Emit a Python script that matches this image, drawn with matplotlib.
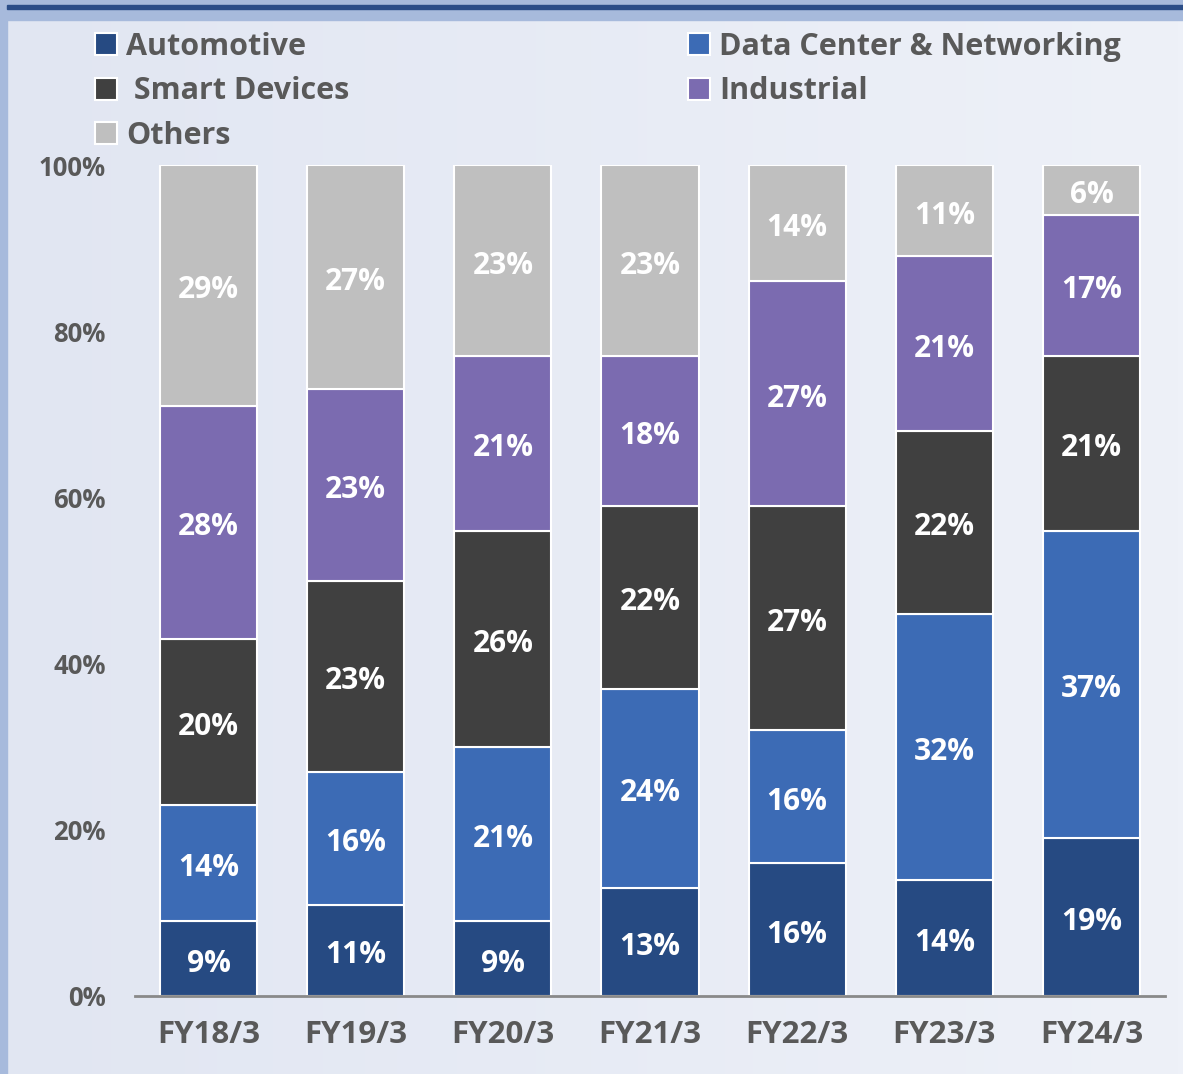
import matplotlib.pyplot as plt
from matplotlib.patches import Rectangle
import numpy as np

plt.rcParams['font.family'] = ['Open Sans', 'DejaVu Sans']

years = ["FY18/3", "FY19/3", "FY20/3", "FY21/3", "FY22/3", "FY23/3", "FY24/3"]
automotive = [9, 11, 9, 13, 16, 14, 19]
data_center = [14, 16, 21, 24, 16, 32, 37]
smart_devices = [20, 23, 26, 22, 27, 22, 21]
industrial = [28, 23, 21, 18, 27, 21, 17]
others = [29, 27, 23, 23, 14, 11, 6]

series = [
    ("Automotive", automotive, "#264a82"),
    ("Data Center & Networking", data_center, "#3c6bb5"),
    (" Smart Devices", smart_devices, "#404040"),
    ("Industrial", industrial, "#7b6bb0"),
    ("Others", others, "#bfbfbf"),
]

fig = plt.figure(figsize=(11.83, 10.74), dpi=100)

# background gradient + frame
bg = fig.add_axes([0, 0, 1, 1], zorder=-10)
grad = np.linspace(0, 1, 256).reshape(1, -1)
bg.imshow(grad, aspect="auto", extent=[0, 1, 0, 1],
          cmap=plt.matplotlib.colors.LinearSegmentedColormap.from_list("g", ["#e1e6f2", "#eef1f8"]))
bg.add_patch(Rectangle((0, 0), 7 / 1183, 1, color="#a7badc", transform=bg.transAxes))
bg.add_patch(Rectangle((0, 1 - 20 / 1074), 1, 20 / 1074, color="#a7badc", transform=bg.transAxes))
bg.add_patch(Rectangle((7 / 1183, 1 - 9 / 1074), 1, 4 / 1074, color="#2b4d88", transform=bg.transAxes))
bg.set_xlim(0, 1)
bg.set_ylim(0, 1)
bg.axis("off")

ax = fig.add_axes([135 / 1183, 1 - 996 / 1074, 1030 / 1183, 831 / 1074])
ax.set_facecolor("none")

x = np.arange(len(years))
bottom = np.zeros(len(years))
handles = {}
for name, vals, color in series:
    vals = np.array(vals, dtype=float)
    bars = ax.bar(x, vals, 0.66, bottom=bottom, color=color, edgecolor="white", linewidth=1.5)
    handles[name] = bars
    for xi, v, b in zip(x, vals, bottom):
        ax.text(xi, b + v / 2 - 0.6, f"{int(v)}%", ha="center", va="center",
                color="white", fontsize=21.5, fontweight="bold")
    bottom += vals

ax.set_xlim(-0.5, 6.5)
ax.set_ylim(0, 100)
ax.set_yticks([0, 20, 40, 60, 80, 100])
ax.set_yticklabels([f"{t}%" for t in [0, 20, 40, 60, 80, 100]])
ax.set_xticks(x)
ax.set_xticklabels(years)
ax.tick_params(axis="both", length=0, labelcolor="#595959")
ax.tick_params(axis="y", pad=21, labelsize=18.5)
ax.tick_params(axis="x", pad=17, labelsize=22.5)
for lab in ax.get_xticklabels() + ax.get_yticklabels():
    lab.set_fontweight("bold")
for side in ["top", "right", "left"]:
    ax.spines[side].set_visible(False)
ax.spines["bottom"].set_color("#898989")
ax.spines["bottom"].set_linewidth(2)

leg_kw = dict(frameon=False, handlelength=0.72, handleheight=0.72,
              handletextpad=0.3, labelspacing=0.47, labelcolor="#595959",
              prop={"weight": "bold", "size": 22}, borderaxespad=0, borderpad=0)
l1 = fig.legend([handles["Automotive"], handles[" Smart Devices"], handles["Others"]],
                ["Automotive", " Smart Devices", "Others"],
                loc="upper left", bbox_to_anchor=(95 / 1183, 1 - 32 / 1074), **leg_kw)
l2 = fig.legend([handles["Data Center & Networking"], handles["Industrial"]],
                ["Data Center & Networking", "Industrial"],
                loc="upper left", bbox_to_anchor=(688 / 1183, 1 - 32 / 1074), **leg_kw)

fig.savefig("out.png", dpi=100)
